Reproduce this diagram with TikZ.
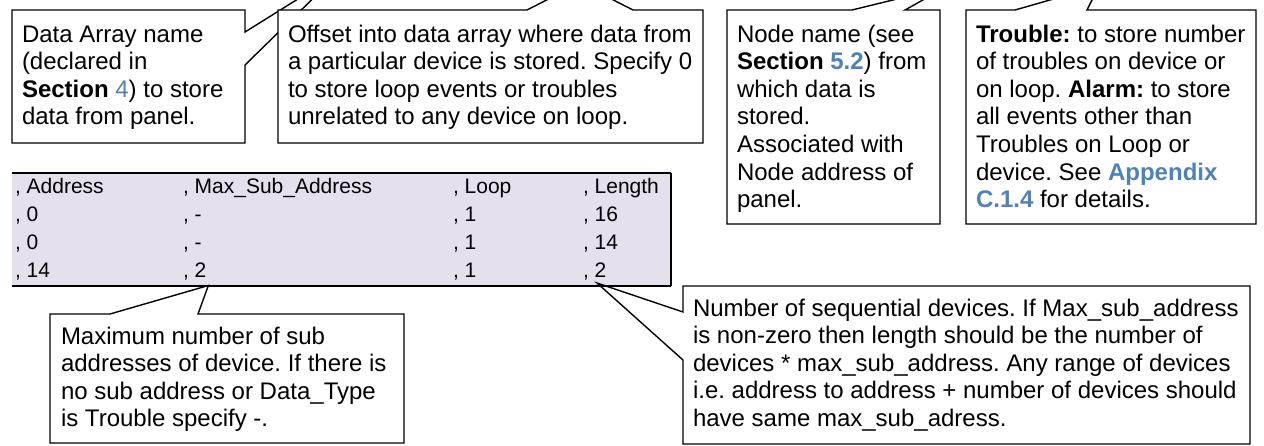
\documentclass[tikz,border=0pt]{standalone}
\usepackage{fontspec}
\setmainfont{Liberation Sans}
\usetikzlibrary{calc}
\definecolor{xref}{HTML}{4F81BD}
\definecolor{tablefill}{HTML}{E5E0EC}
\tikzset{
  frame/.style={rectangle, inner sep=0pt, outer sep=0pt, anchor=north west},
  outline/.style={draw=black, fill=white, line width=1.4pt, line join=miter},
  openline/.style={draw=black, line width=1.4pt, line join=miter},
  note/.style={inner sep=0pt, outer sep=0pt, anchor=north west, align=left,
    font=\fontsize{24pt}{27.6pt}\selectfont\frenchspacing},
  cell/.style={inner sep=0pt, outer sep=0pt, anchor=base west,
    font=\fontsize{21pt}{25pt}\selectfont},
}
\newcommand{\firstline}{\rule{0pt}{18pt}}

\begin{document}
\begin{tikzpicture}[x=1pt,y=-1pt]
\useasboundingbox (0,0) rectangle (1264,445);
\clip (0,0) rectangle (1264,445);

% ---- table of field values ----
\node[frame, fill=tablefill, minimum width=659pt, minimum height=113pt] (tbl) at (12,172.5) {};
\draw[line width=2pt] (tbl.north west) -- (tbl.north east);
\draw[line width=2pt] (tbl.south west) -- (tbl.south east);
\draw[line width=1.5pt] (tbl.north east) -- (tbl.south east);

\foreach \r/\yy/\va/\vb/\vc/\vd in {
  0/193/Address/Max\_Sub\_Address/Loop/Length,
  1/221/0/-/1/16,
  2/249/0/-/1/14,
  3/277/14/2/1/2} {
  \node[cell] (ca\r) at (15,\yy) {, \va};
  \node[cell] (cb\r) at (183,\yy) {, \vb};
  \node[cell] (cc\r) at (453,\yy) {, \vc};
  \node[cell] (cd\r) at (583,\yy) {, \vd};
}

% ---- pointer tips ----
\coordinate (tip1) at (338,-26);
\coordinate (tip2) at (580,-17);
\coordinate (tip3) at (946,-13);
\coordinate (tip4) at (1099,-14);
\coordinate (tip5) at ($(cb3.east |- tbl.south)+(2,0)$);
\coordinate (tip6) at ($(cd3.base west)+(14,6)$);

% ---- callout frames ----
\node[frame, minimum width=233pt, minimum height=133pt] (f1) at (12,10) {};
\node[frame, minimum width=425pt, minimum height=133pt] (f2) at (278,10) {};
\node[frame, minimum width=213pt, minimum height=214pt] (f3) at (727,10) {};
\node[frame, minimum width=290pt, minimum height=214pt] (f4) at (966,10) {};
\node[frame, minimum width=354pt, minimum height=129pt] (f5) at (50,314) {};
\node[frame, minimum width=567pt, minimum height=158pt] (f6) at (683,286) {};

% Data array name
\draw[outline] (f1.north west) -- (f1.north east) -- ($(f1.north east)+(0,22)$)
  -- (tip1) -- ($(f1.north east)+(0,55)$) -- (f1.south east) -- (f1.south west) -- cycle;
\node[note] (t1) at ($(f1.north west)+(10,14)$)
  {\firstline Data Array name\\(declared in\\\textbf{Section} \textcolor{xref}{4}) to store\\data from panel.};

% Offset
\draw[outline] (f2.north west) -- ($(f2.north west)+(249,0)$) -- (tip2)
  -- ($(f2.north west)+(355,0)$) -- (f2.north east) -- (f2.south east) -- (f2.south west) -- cycle;
\node[note] (t2) at ($(f2.north west)+(10,14)$)
  {\firstline Offset into data array where data from\\a particular device is stored. Specify 0\\to store loop events or troubles\\unrelated to any device on loop.};

% Node name
\draw[outline] (f3.north west) -- ($(f3.north west)+(125,0)$) -- (tip3)
  -- ($(f3.north west)+(178,0)$) -- (f3.north east) -- (f3.south east) -- (f3.south west) -- cycle;
\node[note] (t3) at ($(f3.north west)+(10,14)$)
  {\firstline Node name (see\\\textbf{Section} \textcolor{xref}{\textbf{5.2}}) from\\which data is\\stored.\\Associated with\\Node address of\\panel.};

% Data type
\draw[outline] (f4.north west) -- ($(f4.north west)+(49,0)$) -- (tip4)
  -- ($(f4.north west)+(121,0)$) -- (f4.north east) -- (f4.south east) -- (f4.south west) -- cycle;
\node[note] (t4) at ($(f4.north west)+(10,14)$)
  {\firstline\textbf{Trouble:} to store number\\of troubles on device or\\on loop. \textbf{Alarm:} to store\\all events other than\\Troubles on Loop or\\device. See \textcolor{xref}{\textbf{Appendix}}\\\textcolor{xref}{\textbf{C.1.4}} for details.};

% Max sub address
\draw[openline] (f5.north west) -- ($(f5.north west)+(60,0)$) -- (tip5)
  -- ($(f5.north west)+(148,0)$) -- (f5.north east) -- (f5.south east) -- (f5.south west) -- cycle;
\node[note] (t5) at ($(f5.north west)+(11,12)$)
  {\firstline Maximum number of sub\\addresses of device. If there is\\no sub address or Data\_Type\\is Trouble specify -.};

% Length
\draw[openline] (f6.north west) -- (f6.north east) -- (f6.south east) -- (f6.south west)
  -- ($(f6.north west)+(0,74)$) -- (tip6) -- ($(f6.north west)+(0,26)$) -- cycle;
\node[note] (t6) at ($(f6.north west)+(10,12)$)
  {\firstline Number of sequential devices. If Max\_sub\_address\\is non-zero then length should be the number of\\devices * max\_sub\_address. Any range of devices\\i.e. address to address + number of devices should\\have same max\_sub\_adress.};
\end{tikzpicture}
\end{document}
